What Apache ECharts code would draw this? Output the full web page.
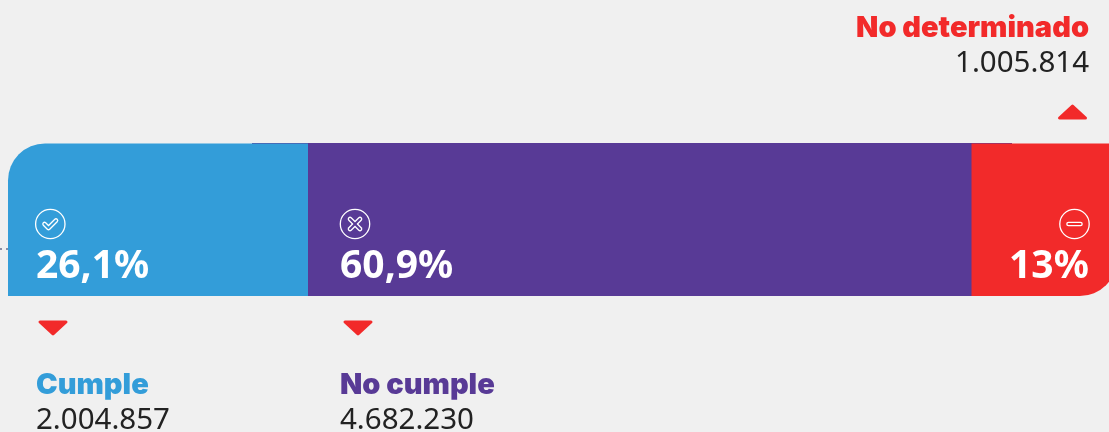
<!DOCTYPE html>
<html><head><meta charset="utf-8">
<style>html,body{margin:0;padding:0;background:#f0f0f0}#c{width:1109px;height:432px}</style>
<script src="https://cdn.jsdelivr.net/npm/echarts@6/dist/echarts.min.js"></script>
</head><body><div id="c"></div>
<script>
// Data
const categories = ['Cumple', 'No cumple', 'No determinado'];
const counts = ['2.004.857', '4.682.230', '1.005.814'];
const percentLabels = ['26,1%', '60,9%', '13%'];
// Segment lengths as drawn in the picture (% of the visible bar; the last runs off the right edge)
const drawnShare = [27.25, 60.26, 13.2];
const colors = ['#339dd9', '#583a96', '#f22a2a'];

const HEAD_FONT = 'Inter, "Noto Sans", sans-serif';
const BODY_FONT = '"Noto Sans", Lato, sans-serif';
const BG = '#f0f0f0';
const chart = echarts.init(document.getElementById('c'), null, {renderer: 'canvas'});

function tri(cx, y1, y2, w) {
  return {type: 'polygon', z: 5, shape: {points: [[cx - w, y1], [cx + w, y1], [cx, y2]]},
    style: {fill: colors[2], stroke: colors[2], lineWidth: 3, lineJoin: 'round'}};
}
function ring(cx, cy) {
  return {type: 'circle', z: 5, shape: {cx, cy, r: 14.7}, style: {fill: 'none', stroke: '#fff', lineWidth: 1.3}};
}
function outlinedLine(points, bg) {
  return [
    {type: 'polyline', z: 5, shape: {points}, style: {fill: 'none', stroke: '#fff', lineWidth: 4.6, lineCap: 'round', lineJoin: 'round'}},
    {type: 'polyline', z: 6, shape: {points}, style: {fill: 'none', stroke: bg, lineWidth: 2, lineCap: 'round', lineJoin: 'round'}}
  ];
}
function label(text, x, baseline, color, size, weight, family, align) {
  return {type: 'text', z: 7, x, y: baseline, style: {text, fill: color, font: `${weight} ${size}px ${family}`, align: align || 'left', verticalAlign: 'bottom', lineHeight: size}};
}
const DROP = 7; // text box bottom below the baseline

const graphics = [
  {type: 'rect', z: 0, shape: {x: 252, y: 143, width: 760, height: 153}, style: {fill: colors[1]}},
  {type: 'line', z: 0, shape: {x1: 0, y1: 249, x2: 8, y2: 249}, style: {stroke: '#1f2a5c', lineWidth: 1, lineDash: [2, 4]}},
  tri(53, 322, 334, 13), tri(358, 322, 334, 13), tri(1072.5, 118, 106, 13),
  ring(50.3, 224), ring(355, 224), ring(1074.5, 224),
  ...outlinedLine([[44.5, 224], [48.5, 228], [56, 220.5]], colors[0]),
  ...outlinedLine([[350, 219], [360, 229]], colors[1]),
  ...outlinedLine([[360, 219], [350, 229]], colors[1]),
  ...outlinedLine([[1068.5, 224], [1080.5, 224]], colors[2]),
  label(categories[0], 36, 393 + DROP, colors[0], 29, 900, HEAD_FONT),
  label(counts[0], 36, 428 + DROP, '#222', 29.5, 400, BODY_FONT),
  label(categories[1], 340, 393 + DROP, colors[1], 29, 900, HEAD_FONT),
  label(counts[1], 340, 428 + DROP, '#222', 29.5, 400, BODY_FONT),
  label(categories[2], 1089, 36 + DROP, colors[2], 29, 900, HEAD_FONT, 'right'),
  label(counts[2], 1089, 71 + DROP, '#222', 29.5, 400, BODY_FONT, 'right')
];

const radii = [[37, 0, 0, 0], 0, [0, 0, 37, 0]];
const labelDist = [28, 32, 28];
const labelDrop = [18, 22, 18];
const series = categories.map((name, i) => ({
  name, type: 'bar', stack: 'total', barWidth: '100%', clip: false,
  data: [drawnShare[i]],
  itemStyle: {color: colors[i], borderRadius: radii[i]},
  silent: true,
  label: {show: true, formatter: percentLabels[i],
    position: i === 2 ? 'insideBottomRight' : 'insideBottomLeft',
    distance: labelDist[i], color: '#fff', fontFamily: BODY_FONT, fontWeight: 700, fontSize: 39, lineHeight: 39, offset: [0, labelDrop[i]]},
  z: 3
}));

chart.setOption({
  animation: false,
  backgroundColor: BG,
  grid: {left: 8, top: 143.5, right: 0, bottom: 136},
  xAxis: {type: 'value', min: 0, max: 100, show: false},
  yAxis: {type: 'category', data: ['Total'], show: false},
  series,
  graphic: graphics
});
</script></body></html>
